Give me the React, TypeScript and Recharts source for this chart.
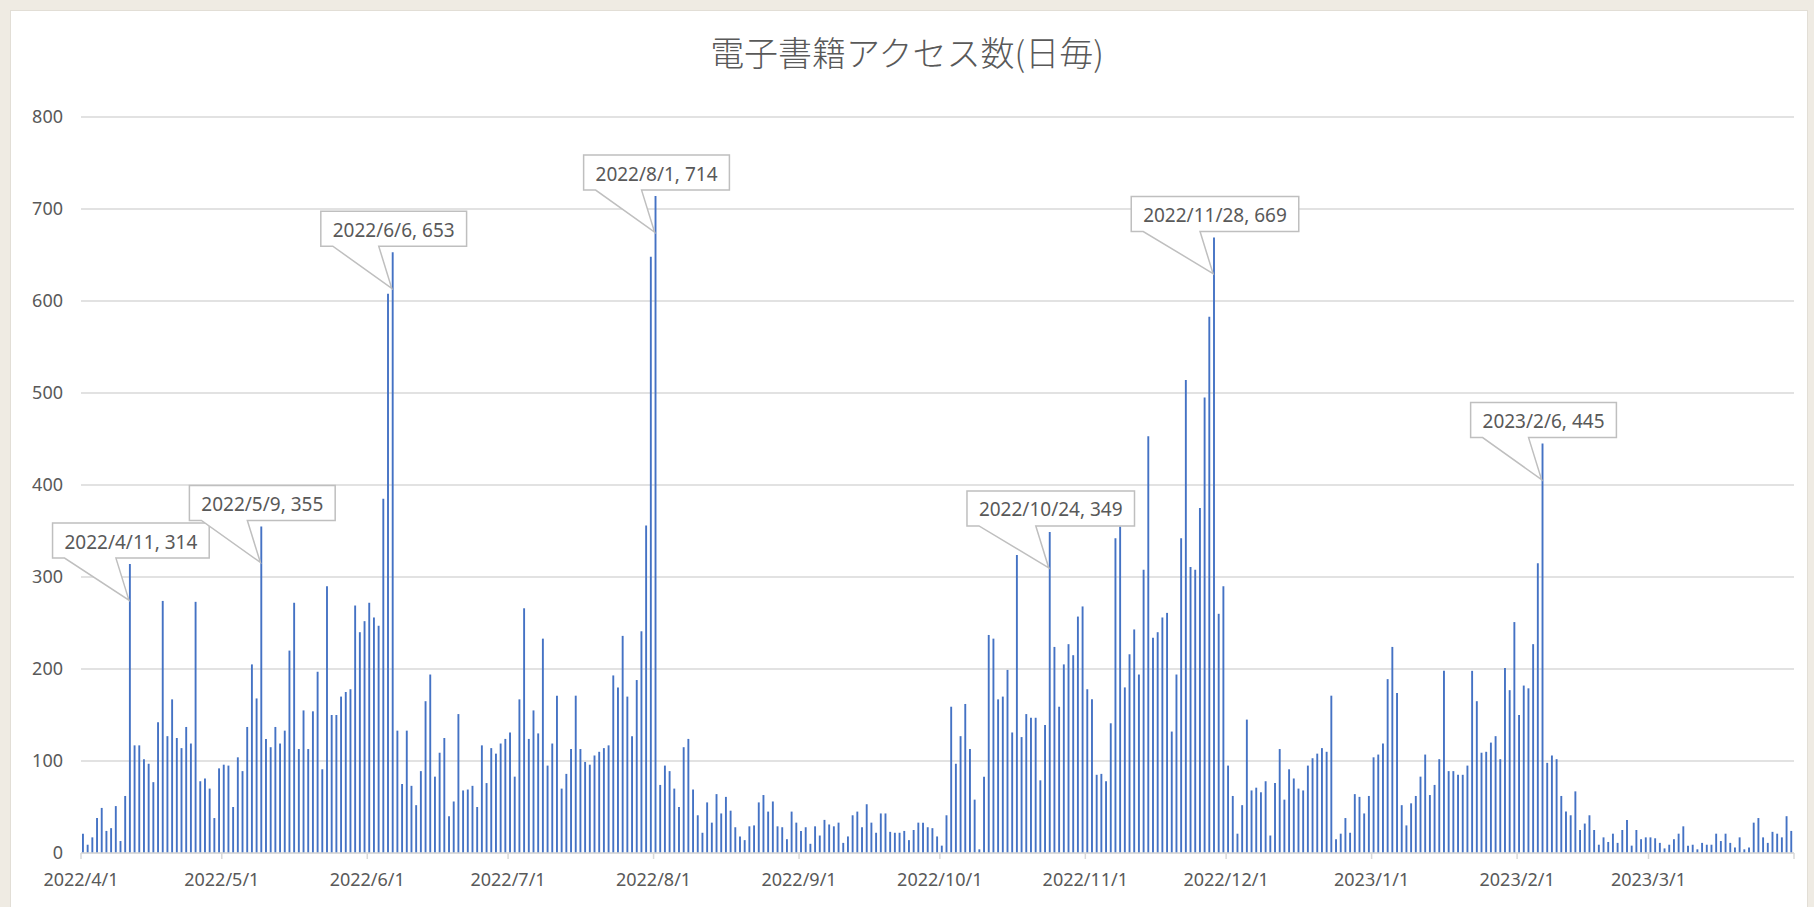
import React from 'react';
import { BarChart, Bar, XAxis, YAxis, CartesianGrid, LabelList } from 'recharts';

const MONTHS: [number, number][] = [
  [2022, 4], [2022, 5], [2022, 6], [2022, 7], [2022, 8], [2022, 9],
  [2022, 10], [2022, 11], [2022, 12], [2023, 1], [2023, 2], [2023, 3],
];

const apr = [21, 9, 17, 38, 49, 24, 27, 51, 13, 62, 314, 117, 117, 102, 97, 77, 142, 274, 127, 167, 125, 114, 137, 119, 273, 78, 81, 70, 38, 92];
const may = [96, 95, 50, 104, 89, 137, 205, 168, 355, 124, 115, 137, 119, 133, 220, 272, 113, 155, 113, 154, 197, 91, 290, 150, 150, 170, 175, 178, 269, 240, 252];
const jun = [272, 256, 247, 385, 608, 653, 133, 75, 133, 73, 52, 89, 165, 194, 83, 109, 125, 40, 56, 151, 68, 69, 73, 50, 117, 76, 114, 108, 119, 124];
const jul = [131, 83, 167, 266, 124, 155, 130, 233, 95, 119, 171, 70, 86, 113, 171, 113, 99, 96, 106, 110, 114, 117, 193, 180, 236, 170, 127, 188, 241, 356, 648];
const aug = [714, 74, 95, 89, 70, 50, 115, 124, 69, 41, 22, 55, 33, 64, 43, 61, 46, 28, 18, 14, 29, 30, 55, 63, 45, 56, 29, 28, 15, 45, 33];
const sep = [24, 28, 10, 29, 19, 36, 31, 29, 33, 11, 18, 41, 45, 28, 53, 33, 22, 43, 43, 23, 22, 22, 24, 14, 25, 33, 33, 28, 27, 18];
const oct = [8, 41, 159, 97, 127, 162, 113, 58, 4, 83, 237, 233, 167, 170, 199, 131, 324, 126, 151, 147, 147, 79, 139, 349, 224, 159, 205, 227, 215, 257, 268];
const nov = [178, 167, 85, 86, 78, 141, 342, 355, 180, 216, 243, 194, 308, 453, 234, 240, 256, 261, 132, 194, 342, 514, 311, 308, 375, 495, 583, 669, 260, 290];
const dec = [95, 62, 21, 52, 145, 68, 71, 66, 78, 19, 76, 113, 58, 91, 81, 70, 68, 95, 103, 108, 114, 110, 171, 15, 21, 38, 22, 64, 61, 43, 62];
const jan = [104, 107, 119, 189, 224, 174, 52, 30, 54, 62, 83, 107, 63, 74, 102, 198, 89, 89, 85, 85, 95, 198, 165, 109, 110, 120, 127, 102, 201, 177, 251];
const feb = [150, 182, 179, 227, 315, 445, 98, 106, 102, 62, 45, 41, 67, 25, 32, 41, 25, 9, 17, 12, 21, 11, 25, 36, 8, 25, 15, 17];
const mar = [17, 16, 11, 5, 9, 15, 21, 29, 8, 9, 4, 11, 9, 9, 21, 13, 21, 11, 6, 17, 4, 6, 33, 38, 17, 11, 23, 21, 17, 40, 24];

const MONTH_VALUES = [apr, may, jun, jul, aug, sep, oct, nov, dec, jan, feb, mar];

const CALLOUT_DATES = ['2022/4/11', '2022/5/9', '2022/6/6', '2022/8/1', '2022/10/24', '2022/11/28', '2023/2/6'];

const TITLE = '電子書籍アクセス数(日毎)';
const Y_TICKS = [0, 100, 200, 300, 400, 500, 600, 700, 800];

type Row = { x: number; date: string; v: number };
const data: Row[] = [];
const monthStarts: number[] = [];
const monthLabels: string[] = [];
MONTH_VALUES.forEach((vals, m) => {
  const [yy, mm] = MONTHS[m];
  monthStarts.push(data.length);
  monthLabels.push(`${yy}/${mm}/1`);
  vals.forEach((v, i) => {
    data.push({ x: data.length + 0.5, date: `${yy}/${mm}/${i + 1}`, v });
  });
});
const TOTAL = data.length;
const X_TICKS = [...monthStarts, TOTAL];

const TEXT_COLOR = '#595959';
const GRID = '#D9D9D9';
const BAR = '#4472C4';
const FONT = '"Noto Sans", "DejaVu Sans", sans-serif';

const charW = (ch: string) => {
  if (/[0-9]/.test(ch)) return 0.572;
  if (ch === '/') return 0.372;
  if (ch === ',') return 0.258;
  if (ch === ' ') return 0.26;
  return 0.6;
};
const textWidth = (s: string, fs: number) => s.split('').reduce((a, c) => a + charW(c) * fs, 0);

const renderCallout = (props: any) => {
  const { x, y, width, index } = props;
  const d = data[index];
  if (!d || !CALLOUT_DATES.includes(d.date)) return null;
  const text = `${d.date}, ${d.v}`;
  const fs = 19;
  const bw = textWidth(text, fs) + 24;
  const bh = 35;
  const bx = Number(x);
  const by = Number(y);
  const cx = bx + Number(width) / 2;
  const left = cx + 1 - bw / 2;
  const right = left + bw;
  const bottom = by - 6;
  const top = bottom - bh;
  const tipX = bx;
  const tipY = by + 36;
  const b1 = left + 12;
  const b2 = Math.max(b1 + 20, tipX - 13);
  const path = `M${left},${top} H${right} V${bottom} H${b2} L${tipX},${tipY} L${b1},${bottom} H${left} Z`;
  return (
    <g key={`callout-${index}`}>
      <path d={path} fill="#FFFFFF" stroke="#BFBFBF" strokeWidth={1.5} />
      <text
        x={(left + right) / 2}
        y={(top + bottom) / 2 + 1}
        textAnchor="middle"
        dominantBaseline="central"
        fontSize={fs}
        fill={TEXT_COLOR}
        fontFamily={FONT}
      >
        {text}
      </text>
    </g>
  );
};

export default function App() {
  return (
    <div style={{ position: 'absolute', left: 0, top: 0, width: 1814, height: 907, background: '#EFEBE3', overflow: 'hidden' }}>
      <div style={{ position: 'absolute', left: 10, top: 10, width: 1796, height: 900, background: '#FFFFFF', borderLeft: '1px solid #E2DED6', borderTop: '1px solid #E2DED6', borderRight: '1px solid #E2DED6' }} />
      <div
        style={{
          position: 'absolute',
          left: 0,
          top: 31,
          width: 1814,
          textAlign: 'center',
          fontSize: 34,
          lineHeight: '42px',
          color: TEXT_COLOR,
          fontWeight: 300,
          fontFamily: '"Noto Sans CJK JP", sans-serif',
        }}
      >
        {TITLE}
      </div>
      <div style={{ position: 'absolute', left: 0, top: 0 }}>
        <BarChart
          width={1814}
          height={907}
          data={data}
          margin={{ top: 117, right: 20, bottom: 24, left: 21 }}
        >
          <CartesianGrid vertical={false} stroke={GRID} strokeWidth={1.5} />
          <XAxis
            dataKey="x"
            type="number"
            domain={[0, TOTAL]}
            ticks={X_TICKS}
            interval={0}
            height={30}
            axisLine={{ stroke: GRID, strokeWidth: 1.5 }}
            tickLine={{ stroke: GRID, strokeWidth: 1.5 }}
            tickSize={6}
            tickMargin={14}
            tick={{ fill: TEXT_COLOR, fontSize: 18, fontFamily: FONT }}
            tickFormatter={(t: number) => {
              const i = monthStarts.indexOf(t);
              return i >= 0 ? monthLabels[i] : '';
            }}
          />
          <YAxis
            type="number"
            domain={[0, 800]}
            ticks={Y_TICKS}
            interval={0}
            width={60}
            axisLine={false}
            tickLine={false}
            tickSize={0}
            tickMargin={18}
            tick={{ fill: TEXT_COLOR, fontSize: 18, fontFamily: FONT }}
          />
          <Bar dataKey="v" fill={BAR} barSize={1.9} isAnimationActive={false}>
            <LabelList dataKey="v" content={renderCallout} />
          </Bar>
        </BarChart>
      </div>
    </div>
  );
}
